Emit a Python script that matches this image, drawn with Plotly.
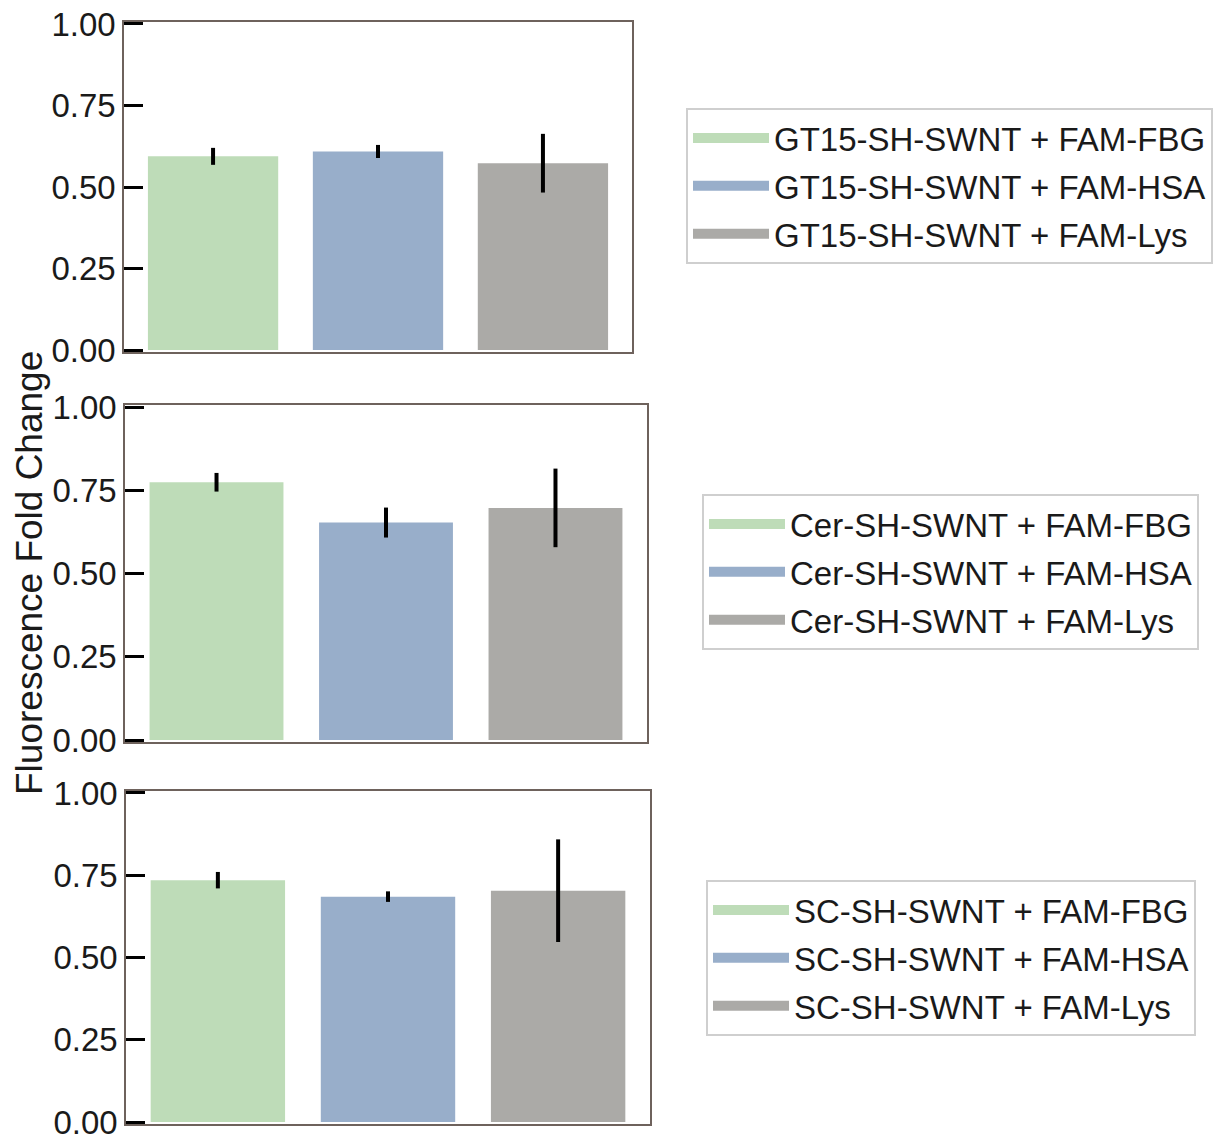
import plotly.graph_objects as go

W, H = 1221, 1145

groups = ["GT15-SH-SWNT", "Cer-SH-SWNT", "SC-SH-SWNT"]
proteins = ["FAM-FBG", "FAM-HSA", "FAM-Lys"]
colors = ["#bedcb8", "#98aeca", "#abaaa7"]

means_gt15 = [0.594, 0.609, 0.573]
err_gt15 = [0.026, 0.020, 0.090]
means_cer = [0.774, 0.653, 0.697]
err_cer = [0.028, 0.045, 0.118]
means_sc = [0.735, 0.685, 0.703]
err_sc = [0.025, 0.016, 0.156]

means = [means_gt15, means_cer, means_sc]
errs = [err_gt15, err_cer, err_sc]

yticks = [0, 0.25, 0.5, 0.75, 1.0]

# pixel boxes of the three panels (left, right, top, bottom)
panels = [(124, 632, 22, 352), (125, 647, 405, 742), (126, 650, 791, 1124)]
legend_pos = [(686, 108), (702, 494), (706, 880)]

fig = go.Figure()
frame_col = "#6e625c"
font_family = "Liberation Sans, Arial, sans-serif"

for p in range(3):
    xa = "x" if p == 0 else f"x{p+1}"
    ya = "y" if p == 0 else f"y{p+1}"
    lg = "legend" if p == 0 else f"legend{p+1}"
    for i in range(3):
        fig.add_trace(go.Bar(
            x=[i], y=[means[p][i]], width=0.79,
            marker=dict(color=colors[i], line=dict(width=0)),
            error_y=dict(type="data", array=[errs[p][i]], color="black",
                         thickness=4, width=0),
            xaxis=xa, yaxis=ya, showlegend=False,
        ))
    for i in range(3):
        fig.add_trace(go.Scatter(
            x=[None], y=[None], mode="lines",
            line=dict(color=colors[i], width=20),
            name=f"{groups[p]} + {proteins[i]}",
            xaxis=xa, yaxis=ya, legend=lg, legendgroup=f"{p}-{i}",
            showlegend=True,
        ))

layout = dict(
    width=W, height=H,
    margin=dict(l=0, r=0, t=0, b=0, autoexpand=False),
    paper_bgcolor="white", plot_bgcolor="white",
    barmode="overlay",
    font=dict(family=font_family, color="#1a1a1a"),
    showlegend=True,
)

for p, (l, r, t, b) in enumerate(panels):
    sx = "" if p == 0 else str(p + 1)
    layout[f"xaxis{sx}"] = dict(
        domain=[l / W, r / W], range=[-0.54, 2.54],
        showline=True, mirror=True, linecolor=frame_col, linewidth=1.5,
        showticklabels=False, ticks="", showgrid=False, zeroline=False,
        anchor=f"y{sx}", fixedrange=True, automargin=False,
    )
    layout[f"yaxis{sx}"] = dict(
        domain=[1 - b / H, 1 - t / H], range=[-0.006, 1.006],
        tickvals=yticks, ticktext=[f"{v:.2f}" for v in yticks],
        ticks="inside", ticklen=19, tickwidth=3, tickcolor="black",
        tickfont=dict(size=33, color="#1a1a1a"), ticklabeloverflow="allow",
        showline=True, mirror=True, linecolor=frame_col, linewidth=1.5,
        showgrid=False, zeroline=False, anchor=f"x{sx}", automargin=False,
    )

for p, (lx, ly) in enumerate(legend_pos):
    key = "legend" if p == 0 else f"legend{p+1}"
    layout[key] = dict(
        x=lx / W, y=1 - ly / H, xanchor="left", yanchor="top",
        bgcolor="white", bordercolor="#cfcfcf", borderwidth=2,
        font=dict(size=33, color="#1a1a1a"),
        tracegroupgap=2, itemwidth=76,
    )

fig.update_layout(**layout)

fig.add_annotation(
    text="Fluorescence Fold Change", textangle=-90,
    x=29 / W, y=1 - 573 / H, xref="paper", yref="paper",
    xanchor="center", yanchor="middle", showarrow=False,
    font=dict(size=37, color="#1a1a1a"),
)

fig.write_html("out.html")
